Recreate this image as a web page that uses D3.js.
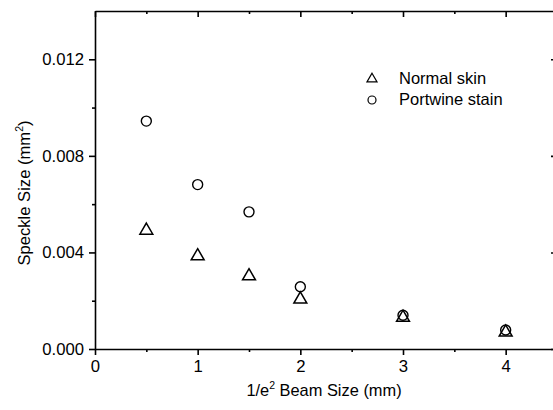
<!DOCTYPE html>
<html>
<head>
<meta charset="utf-8">
<script src="https://cdn.jsdelivr.net/npm/d3@7"></script>
<style>
  html, body { margin: 0; padding: 0; background: #fff; }
  svg { display: block; }
  text { font-family: "Liberation Sans", Arial, Helvetica, sans-serif; fill: #000; }
</style>
</head>
<body>
<svg id="chart" width="553" height="410"></svg>
<script>
// Beam size (mm) and measured speckle size (mm^2)
const beamSize = [0.5, 1, 1.5, 2, 3, 4];
const normalSkin = [0.00495, 0.00389, 0.00306, 0.00210, 0.00134, 0.00073];
const portwineStain = [0.00944, 0.00681, 0.00568, 0.00258, 0.00140, 0.00079];
const seriesNames = ["Normal skin", "Portwine stain"];
const xMajorTicks = [0, 1, 2, 3, 4];
const xMinorTicks = [0.5, 1.5, 2.5, 3.5];
const yMajorTicks = [0, 0.004, 0.008, 0.012];
const yMinorTicks = [0.002, 0.006, 0.010];

const svg = d3.select("#chart");
const plotLeft = 95, plotRight = 557, plotTop = 11, plotBottom = 349;

const x = d3.scaleLinear().domain([0, 4.5]).range([plotLeft, plotRight]);
const y = d3.scaleLinear().domain([0, 0.014]).range([plotBottom, plotTop]);

const axisStroke = 1.6;
const labelSize = "16.7px";

// Bottom axis: major ticks with labels, minor ticks outward
const gx = svg.append("g").attr("transform", `translate(0,${plotBottom})`)
  .call(d3.axisBottom(x).tickValues(xMajorTicks).tickFormat(d3.format("d"))
    .tickSize(6).tickSizeOuter(0).tickPadding(5));
gx.selectAll("text").style("font-size", labelSize);
svg.append("g").attr("transform", `translate(0,${plotBottom})`)
  .call(d3.axisBottom(x).tickValues(xMinorTicks).tickFormat("").tickSize(3).tickSizeOuter(0))
  .select(".domain").remove();

// Left axis
const gy = svg.append("g").attr("transform", `translate(${plotLeft},0)`)
  .call(d3.axisLeft(y).tickValues(yMajorTicks).tickFormat(d3.format(".3f"))
    .tickSize(6).tickSizeOuter(0).tickPadding(5));
gy.selectAll("text").style("font-size", labelSize);
svg.append("g").attr("transform", `translate(${plotLeft},0)`)
  .call(d3.axisLeft(y).tickValues(yMinorTicks).tickFormat("").tickSize(3).tickSizeOuter(0))
  .select(".domain").remove();

// Top axis, ticks pointing into the plot
svg.append("g").attr("transform", `translate(0,${plotTop})`)
  .call(d3.axisTop(x).tickValues(xMajorTicks).tickFormat("").tickSize(-6).tickSizeOuter(0));
svg.append("g").attr("transform", `translate(0,${plotTop})`)
  .call(d3.axisTop(x).tickValues(xMinorTicks).tickFormat("").tickSize(-3).tickSizeOuter(0))
  .select(".domain").remove();

// Right axis, ticks pointing into the plot
svg.append("g").attr("transform", `translate(${plotRight},0)`)
  .call(d3.axisRight(y).tickValues(yMajorTicks).tickFormat("").tickSize(-6).tickSizeOuter(0));
svg.append("g").attr("transform", `translate(${plotRight},0)`)
  .call(d3.axisRight(y).tickValues(yMinorTicks).tickFormat("").tickSize(-3).tickSizeOuter(0))
  .select(".domain").remove();

svg.selectAll(".domain, .tick line").attr("stroke", "#000").attr("stroke-width", axisStroke);

// Axis titles
const xt = svg.append("text").attr("x", 324).attr("y", 396)
  .attr("text-anchor", "middle").style("font-size", "16.4px");
xt.append("tspan").text("1/e");
xt.append("tspan").attr("dy", -7).style("font-size", "10.5px").text("2");
xt.append("tspan").attr("dy", 7).text(" Beam Size (mm)");

const yt = svg.append("text").attr("transform", `translate(30,193) rotate(-90)`)
  .attr("text-anchor", "middle").style("font-size", "16.6px");
yt.append("tspan").text("Speckle Size (mm");
yt.append("tspan").attr("dy", -7).style("font-size", "10.5px").text("2");
yt.append("tspan").attr("dy", 7).text(")");

// Markers
const triangle = d3.symbol().type(d3.symbolTriangle).size(72);
const triangleSmall = d3.symbol().type(d3.symbolTriangle).size(44);

svg.append("g").selectAll("path").data(beamSize.map((b, i) => [b, normalSkin[i]]))
  .join("path")
  .attr("transform", d => `translate(${x(d[0])},${y(d[1]) + 1})`)
  .attr("d", triangle)
  .attr("fill", "none").attr("stroke", "#000").attr("stroke-width", 1.5);

svg.append("g").selectAll("circle").data(beamSize.map((b, i) => [b, portwineStain[i]]))
  .join("circle")
  .attr("cx", d => x(d[0])).attr("cy", d => y(d[1])).attr("r", 5)
  .attr("fill", "none").attr("stroke", "#000").attr("stroke-width", 1.4);

// Legend
const legend = svg.append("g");
legend.append("path").attr("transform", "translate(372,79)").attr("d", triangleSmall)
  .attr("fill", "none").attr("stroke", "#000").attr("stroke-width", 1.2);
legend.append("circle").attr("cx", 372).attr("cy", 100).attr("r", 4)
  .attr("fill", "none").attr("stroke", "#000").attr("stroke-width", 1.2);
legend.selectAll("text").data(seriesNames).join("text")
  .attr("x", 399).attr("y", (d, i) => 84 + i * 21)
  .style("font-size", "16.5px").text(d => d);
</script>
</body>
</html>
